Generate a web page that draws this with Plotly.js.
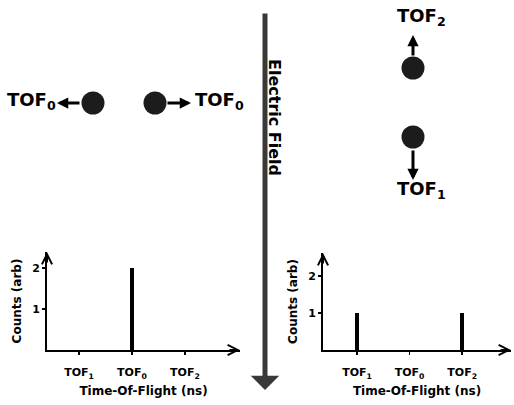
<!DOCTYPE html>
<html>
<head>
<meta charset="utf-8">
<script src="https://cdn.plot.ly/plotly-3.0.1.min.js"></script>
<style>html,body{margin:0;padding:0;background:#fff;}#chart{width:514px;height:405px;}</style>
</head>
<body>
<div id="chart"></div>
<script>
// Data
var categories = ['TOF<sub>1</sub>', 'TOF<sub>0</sub>', 'TOF<sub>2</sub>'];
var countsNoField = [0, 2, 0];
var countsField = [1, 0, 1];
var yTickVals = [1, 2];
var yTickText = ['1', '2'];
var xTitle = 'Time-Of-Flight (ns)';
var yTitle = 'Counts (arb)';

var W = 514, H = 405;
function px(x) { return x / W; }
function py(y) { return 1 - y / H; }

var FONT = 'DejaVu Sans';
var tickFont = {family: FONT, size: 11, color: '#000', weight: 'bold'};
var titleFont = {family: FONT, size: 12, color: '#000', weight: 'bold'};

var traces = [
  {type: 'bar', x: categories, y: countsNoField, xaxis: 'x', yaxis: 'y',
   width: 0.075, marker: {color: '#000', line: {width: 0}}, showlegend: false, hoverinfo: 'skip'},
  {type: 'bar', x: categories, y: countsField, xaxis: 'x2', yaxis: 'y2',
   width: 0.075, marker: {color: '#000', line: {width: 0}}, showlegend: false, hoverinfo: 'skip'}
];

function xAxis(domain, range, anchor) {
  return {domain: domain, range: range, anchor: anchor, type: 'category',
    categoryorder: 'array', categoryarray: categories,
    showline: true, linewidth: 2, linecolor: '#000', showgrid: false, zeroline: false,
    ticks: 'outside', ticklen: 3, tickwidth: 1.5, tickcolor: '#000',
    tickfont: tickFont, fixedrange: true, ticklabelstandoff: 8,
    title: {text: xTitle, font: titleFont, standoff: 7}};
}
function yAxis(domain, range, anchor) {
  return {domain: domain, range: range, anchor: anchor,
    showline: true, linewidth: 2, linecolor: '#000', showgrid: false, zeroline: false,
    tickmode: 'array', tickvals: yTickVals, ticktext: yTickText,
    ticks: 'outside', ticklen: 3, tickwidth: 1.5, tickcolor: '#000',
    tickfont: tickFont, fixedrange: true,
    title: {text: yTitle, font: titleFont, standoff: 8}};
}

var axisArrow = function (xref, yref, x, y, ax, ay) {
  return {xref: xref, yref: yref, x: x, y: y, ax: ax, ay: ay, axref: 'pixel', ayref: 'pixel',
    text: '', showarrow: true, arrowhead: 5, arrowwidth: 2, arrowsize: 1, arrowcolor: '#000'};
};
var smallArrow = function (x, y, ax, ay) {
  return {xref: 'paper', yref: 'paper', x: px(x), y: py(y), ax: ax, ay: ay,
    text: '', showarrow: true, arrowhead: 2, arrowwidth: 3, arrowsize: 0.75, arrowcolor: '#000'};
};
var label = function (txt, x, y) {
  return {xref: 'paper', yref: 'paper', x: px(x), y: py(y), xanchor: 'center', yanchor: 'middle',
    text: '<b>' + txt + '</b>', showarrow: false, font: {family: FONT, size: 18, color: '#000'}};
};
var circle = function (cx, cy, r) {
  return {type: 'circle', xref: 'paper', yref: 'paper',
    x0: px(cx - r), x1: px(cx + r), y0: py(cy + r), y1: py(cy - r),
    fillcolor: '#1c1c1c', line: {width: 0}};
};

var layout = {
  width: W, height: H,
  margin: {l: 0, r: 0, t: 0, b: 0},
  paper_bgcolor: '#fff', plot_bgcolor: 'rgba(0,0,0,0)',
  showlegend: false,
  bargap: 0,
  xaxis: xAxis([px(47), px(240)], [-0.604, 3.04], 'y'),
  yaxis: yAxis([py(350), py(252)], [0, 2.39], 'x'),
  xaxis2: xAxis([px(323), px(511)], [-0.648, 2.93], 'y2'),
  yaxis2: yAxis([py(350), py(253)], [0, 2.62], 'x2'),
  shapes: [circle(93, 103, 11.5), circle(155, 103, 11.5), circle(413, 68, 11.5), circle(413, 137, 11.5)],
  annotations: [
    axisArrow('x domain', 'y domain', 1, 0, -12, 0),
    axisArrow('x domain', 'y domain', 0, 1, 0, 12),
    axisArrow('x2 domain', 'y2 domain', 1, 0, -12, 0),
    axisArrow('x2 domain', 'y2 domain', 0, 1, 0, 12),
    // electric field
    {xref: 'paper', yref: 'paper', x: px(265), y: py(390), ax: 0, ay: -378,
     text: '', showarrow: true, arrowhead: 1, arrowwidth: 5, arrowsize: 0.95, arrowcolor: '#383838'},
    {xref: 'paper', yref: 'paper', x: px(274), y: py(117), xanchor: 'center', yanchor: 'middle',
     text: '<b>Electric Field</b>', textangle: 90, showarrow: false,
     font: {family: FONT, size: 16, color: '#000'}},
    // particles
    smallArrow(57, 103, 24, 0),
    smallArrow(191, 103, -25, 0),
    smallArrow(413, 35, 0, 22),
    smallArrow(413, 180, 0, -31),
    label('TOF<sub>0</sub>', 31, 101),
    label('TOF<sub>0</sub>', 219, 101),
    label('TOF<sub>2</sub>', 421, 17),
    label('TOF<sub>1</sub>', 421, 190)
  ]
};

Plotly.newPlot('chart', traces, layout, {displayModeBar: false, staticPlot: true});
</script>
</body>
</html>
